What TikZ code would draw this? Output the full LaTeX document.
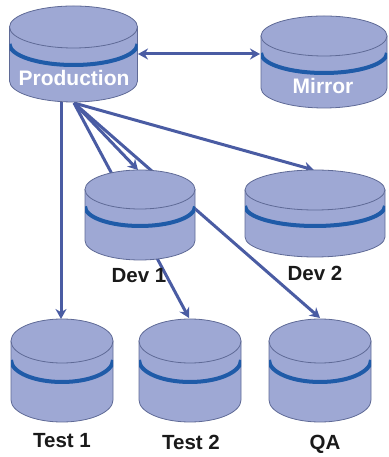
\documentclass[tikz,border=0pt]{standalone}
\usepackage{fontspec}
\setmainfont{Liberation Sans}
\usetikzlibrary{arrows.meta}
\definecolor{cylfill}{HTML}{9EA8D4}
\definecolor{cyledge}{HTML}{5F6A96}
\definecolor{cylband}{HTML}{1F5BA8}
\definecolor{conn}{HTML}{4A5CA3}
\definecolor{inktxt}{HTML}{1A1A1A}
\tikzset{
  cylbody/.style={fill=cylfill,draw=cyledge,line width=0.8pt},
  cylstripe/.style={draw=cylband,line width=4pt},
  link/.style={draw=conn,line width=3pt,-{Stealth[length=10pt,width=11pt]}},
  biglink/.style={draw=conn,line width=3pt,{Stealth[length=10pt,width=11pt]}-{Stealth[length=10pt,width=11pt]}},
  darklabel/.style={font=\fontsize{20.5}{23}\selectfont\bfseries,text=inktxt,inner sep=0pt},
  whitelabel/.style={font=\fontsize{21}{24}\selectfont\bfseries,text=white,inner sep=0pt}
}
% left x, right x, top y, bottom y, ellipse y radius, stripe offset (image coordinates)
\newcommand{\drumshape}[6]{%
  \pgfmathsetmacro{\drx}{(#2-#1)/2}%
  \pgfmathsetmacro{\dcx}{(#1+#2)/2}%
  \pgfmathsetmacro{\dty}{457-#3-#5}%
  \pgfmathsetmacro{\dby}{457-#4+#5}%
  \pgfmathsetmacro{\dsy}{\dty-#6}%
  \path[cylbody] (#1,\dty) -- (#1,\dby) arc[start angle=180,end angle=360,x radius=\drx pt,y radius=#5 pt] -- (#2,\dty) -- cycle;
  \begin{scope}
    \clip (#1,\dty) -- (#1,\dby) arc[start angle=180,end angle=360,x radius=\drx pt,y radius=#5 pt] -- (#2,\dty) -- cycle;
    \draw[cylstripe] (#1,\dsy) arc[start angle=180,end angle=360,x radius=\drx pt,y radius=#5 pt];
  \end{scope}
  \path[cylbody] (\dcx,\dty) ellipse[x radius=\drx pt,y radius=#5 pt];
}
\begin{document}
\begin{tikzpicture}[x=1pt,y=1pt]
\useasboundingbox (0,0) rectangle (388,457);
\coordinate (prodout) at (74,457-103);
\coordinate (prodtest) at (61,457-102);
\coordinate (prodright) at (138,457-54);
\coordinate (mirrorleft) at (260,457-54);
\coordinate (testonetop) at (61,457-319);
\coordinate (testtwotop) at (189,457-318);
\coordinate (qatop) at (320,457-318);
\coordinate (devonetop) at (138,457-170);
\coordinate (devtwotop) at (314,457-170);
% connectors, behind the drums
\draw[link] (prodtest) -- (testonetop);
\draw[link] (prodout) -- (testtwotop);
\draw[link] (prodout) -- (qatop);
\draw[link] (prodout) -- (devonetop);
\draw[link] (prodout) -- (devtwotop);
% drums
\drumshape{9.5}{137.5}{6}{102}{21}{17}
\drumshape{261}{387}{16}{108}{20}{17}
\drumshape{85}{195}{170}{260}{19.5}{17}
\drumshape{245}{385}{170}{257}{20}{16}
\drumshape{11}{113}{319}{422}{22}{19}
\drumshape{139}{241}{319}{422}{22}{19}
\drumshape{269}{371}{319}{422}{22}{19}
\draw[biglink] (prodright) -- (mirrorleft);
% labels
\node[whitelabel] (production) at (74,457-78) {Production};
\node[whitelabel] (mirror) at (323,457-86) {Mirror};
\node[darklabel] (devone) at (139,457-276) {Dev 1};
\node[darklabel] (devtwo) at (315,457-273) {Dev 2};
\node[darklabel] (testone) at (62,457-441) {Test 1};
\node[darklabel] (testtwo) at (191,457-442) {Test 2};
\node[darklabel] (qa) at (325,457-444) {QA};
\end{tikzpicture}
\end{document}
